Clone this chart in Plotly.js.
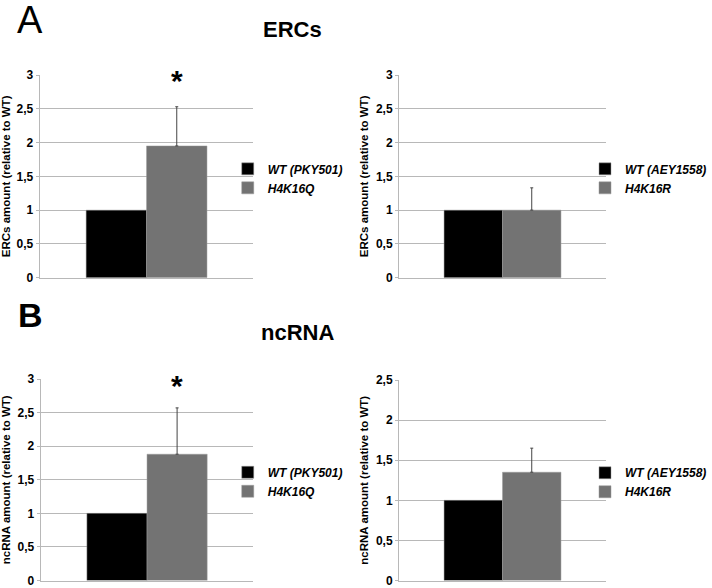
<!DOCTYPE html>
<html>
<head>
<meta charset="utf-8">
<script src="https://cdn.plot.ly/plotly-3.0.1.min.js"></script>
<style>
  html, body { margin: 0; padding: 0; background: #fff; }
  #chart { width: 712px; height: 588px; }
</style>
</head>
<body>
<div id="chart"></div>
<script>
// values (relative to WT)
const strainsPKY = ['WT (PKY501)', 'H4K16Q'];
const strainsAEY = ['WT (AEY1558)', 'H4K16R'];

const ercsPKY = [1, 1.95];
const ercsPKYErr = [0, 0.58];
const ercsAEY = [1, 1.0];
const ercsAEYErr = [0, 0.33];

const ncrnaPKY = [1, 1.88];
const ncrnaPKYErr = [0, 0.69];
const ncrnaAEY = [1, 1.35];
const ncrnaAEYErr = [0, 0.30];

const yTicksFull = [0, 0.5, 1, 1.5, 2, 2.5, 3];
const yTicksShort = [0, 0.5, 1, 1.5, 2, 2.5];

const barColors = ['#000000', '#737373'];
const gridColor = '#b8b8b8';
const FONT = 'Liberation Sans, Arial, Helvetica, sans-serif';
const BARGAP = 0.435;

// panel layout in pixels (figure is 712 x 588)
const W = 712, H = 588;
const panels = [
  {ax: '', strains: strainsPKY, vals: ercsPKY, err: ercsPKYErr, ticks: yTicksFull,
   ytitle: 'ERCs amount (relative to WT)', x0: 40, x1: 256, top: 75, bottom: 277.7, star: true},
  {ax: '2', strains: strainsAEY, vals: ercsAEY, err: ercsAEYErr, ticks: yTicksFull,
   ytitle: 'ERCs amount (relative to WT)', x0: 403, x1: 612, top: 75, bottom: 277.7, star: false},
  {ax: '3', strains: strainsPKY, vals: ncrnaPKY, err: ncrnaPKYErr, ticks: yTicksFull,
   ytitle: 'ncRNA amount (relative to WT)', x0: 41, x1: 256, top: 379, bottom: 580.5, star: true},
  {ax: '4', strains: strainsAEY, vals: ncrnaAEY, err: ncrnaAEYErr, ticks: yTicksShort,
   ytitle: 'ncRNA amount (relative to WT)', x0: 403, x1: 612, top: 380, bottom: 580.5, star: false}
];

const traces = [];
const layout = {
  width: W, height: H,
  margin: {l: 0, r: 0, t: 0, b: 0},
  paper_bgcolor: '#fff', plot_bgcolor: '#fff',
  barmode: 'group', bargap: BARGAP, bargroupgap: 0,
  separators: ', ',
  font: {family: FONT, color: '#000'},
  showlegend: true,
  annotations: []
};

const legendX = [230, 591];

panels.forEach((p, i) => {
  const legendName = i === 0 ? 'legend' : 'legend' + (i + 1);
  const xa = 'x' + p.ax, ya = 'y' + p.ax;
  p.strains.forEach((s, j) => {
    traces.push({
      type: 'bar',
      x: [0], y: [p.vals[j]],
      name: s,
      xaxis: xa, yaxis: ya,
      legend: legendName,
      marker: {color: barColors[j], line: {color: '#9a9a9a', width: 0.5}},
      error_y: {
        type: 'data', symmetric: false,
        array: [p.err[j]], arrayminus: [0],
        visible: p.err[j] > 0,
        color: '#444', thickness: 1, width: 1.5
      },
      hoverinfo: 'skip'
    });
  });

  const yMax = p.ticks[p.ticks.length - 1];
  layout['xaxis' + p.ax] = {
    domain: [p.x0 / W, p.x1 / W],
    anchor: ya,
    range: [-0.5, 0.5],
    showticklabels: false, showgrid: false, zeroline: false,
    showline: true, linecolor: gridColor, linewidth: 1,
    ticks: ''
  };
  layout['yaxis' + p.ax] = {
    domain: [(H - p.bottom) / H, (H - p.top) / H],
    anchor: xa,
    range: [0, yMax],
    tickvals: p.ticks,
    tickformat: '.1~f',
    ticklabeloverflow: 'allow',
    showgrid: true, gridcolor: gridColor, gridwidth: 1,
    zeroline: false,
    showline: true, linecolor: gridColor, linewidth: 1,
    ticks: 'outside', ticklen: 3, tickcolor: gridColor,
    tickfont: {family: FONT, size: 12, weight: 'bold', color: '#000'},
    title: {
      text: p.ytitle, standoff: 4,
      font: {family: FONT, size: 11.5, weight: 'bold', color: '#000'}
    }
  };

  const midY = (p.top + p.bottom) / 2;
  layout[legendName] = {
    x: legendX[i % 2] / W, xanchor: 'left',
    y: (H - midY - 2) / H, yanchor: 'middle',
    bgcolor: 'rgba(0,0,0,0)',
    font: {family: FONT, size: 12, weight: 'bold', style: 'italic', color: '#000'},
    itemwidth: 30, tracegroupgap: 0,
    traceorder: 'normal'
  };

  if (p.star) {
    // asterisk above the mutant bar, at the top gridline
    layout.annotations.push({
      xref: xa, yref: ya,
      x: (1 - BARGAP) / 4, y: yMax,
      text: '*', showarrow: false,
      yanchor: 'middle', yshift: -6,
      font: {family: FONT, size: 30, weight: 'bold', color: '#000'}
    });
  }
});

// panel letters and section titles
const headings = [
  {text: 'A', x: 30, y: 20, size: 38, weight: 'normal'},
  {text: 'ERCs', x: 295, y: 30, size: 22, weight: 'bold'},
  {text: 'B', x: 31, y: 315, size: 34, weight: 'bold'},
  {text: 'ncRNA', x: 300, y: 332, size: 22, weight: 'bold'}
];
headings.forEach(h => {
  layout.annotations.push({
    xref: 'paper', yref: 'paper',
    x: h.x / W, y: (H - h.y) / H,
    xanchor: 'center', yanchor: 'middle',
    text: h.text, showarrow: false,
    font: {family: FONT, size: h.size, weight: h.weight, color: '#000'}
  });
});

Plotly.newPlot('chart', traces, layout, {displayModeBar: false, responsive: false});
</script>
</body>
</html>
